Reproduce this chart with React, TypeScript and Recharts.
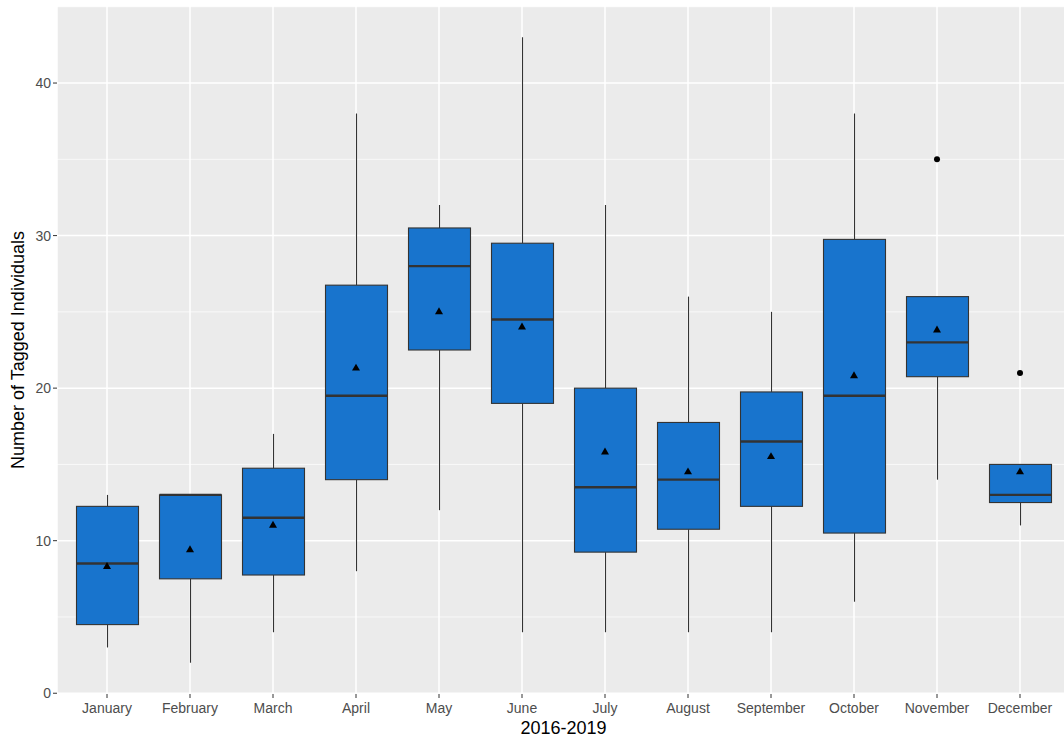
import React from 'react';
import { ComposedChart, Bar, Scatter, XAxis, YAxis, CartesianGrid, Label } from 'recharts';

const months = ['January', 'February', 'March', 'April', 'May', 'June', 'July', 'August', 'September', 'October', 'November', 'December'];
const whiskerLow = [3, 2, 4, 8, 12, 4, 4, 4, 4, 6, 14, 11];
const q1Values = [4.5, 7.5, 7.75, 14, 22.5, 19, 9.25, 10.75, 12.25, 10.5, 20.75, 12.5];
const medianValues = [8.5, 13, 11.5, 19.5, 28, 24.5, 13.5, 14, 16.5, 19.5, 23, 13];
const q3Values = [12.25, 13, 14.75, 26.75, 30.5, 29.5, 20, 17.75, 19.75, 29.75, 26, 15];
const whiskerHigh = [13, 13, 17, 38, 32, 43, 32, 26, 25, 38, 26, 15];
const meanValues = [8.3, 9.4, 11, 21.3, 25, 24, 15.8, 14.5, 15.5, 20.8, 23.8, 14.5];
const outlierValues: (number | null)[] = [null, null, null, null, null, null, null, null, null, null, 35, 21];
const yTicks = [0, 10, 20, 30, 40];
const yMinorTicks = [5, 15, 25, 35, 45];

const data = months.map((m, i) => ({
  month: m,
  range: [whiskerLow[i], whiskerHigh[i]],
  low: whiskerLow[i],
  q1: q1Values[i],
  median: medianValues[i],
  q3: q3Values[i],
  high: whiskerHigh[i],
  mean: meanValues[i],
  outlier: outlierValues[i],
}));

const FONT = '"Liberation Sans", Arial, Helvetica, sans-serif';
const BOX_FILL = '#1874CD';
const LINE = '#333333';

const BoxShape = (props: any) => {
  const { x, y, width, height, payload } = props;
  if (!payload || !isFinite(y) || !isFinite(height)) return null;
  const { low, high, q1, median, q3 } = payload;
  const top = y;
  const bottom = y + height;
  const py = (v: number) => bottom - ((v - low) / (high - low)) * (bottom - top);
  const cx = x + width / 2;
  return (
    <g>
      <line x1={cx} x2={cx} y1={py(high)} y2={py(q3)} stroke={LINE} strokeWidth={1.1} />
      <line x1={cx} x2={cx} y1={py(q1)} y2={py(low)} stroke={LINE} strokeWidth={1.1} />
      <rect x={x} y={py(q3)} width={width} height={py(q1) - py(q3)} fill={BOX_FILL} stroke={LINE} strokeWidth={1.1} />
      <line x1={x} x2={x + width} y1={py(median)} y2={py(median)} stroke={LINE} strokeWidth={2.4} />
    </g>
  );
};

const TriangleShape = (props: any) => {
  const { cx, cy } = props;
  if (!isFinite(cx) || !isFinite(cy)) return null;
  const s = 8;
  const h = s * 0.866;
  return (
    <polygon
      points={`${cx},${cy - (2 * h) / 3} ${cx - s / 2},${cy + h / 3} ${cx + s / 2},${cy + h / 3}`}
      fill="#000000"
    />
  );
};

const DotShape = (props: any) => {
  const { cx, cy, payload } = props;
  if (!payload || payload.outlier == null || !isFinite(cx) || !isFinite(cy)) return null;
  return <circle cx={cx} cy={cy} r={3} fill="#000000" />;
};

const YTitle = (props: any) => {
  const vb = props.viewBox || {};
  const cy = vb.y + vb.height / 2;
  const x = 24;
  return (
    <text
      x={x}
      y={cy}
      transform={`rotate(-90, ${x}, ${cy})`}
      textAnchor="middle"
      fontSize={18}
      fontFamily={FONT}
      fill="#000000"
    >
      Number of Tagged Individuals
    </text>
  );
};

export default function App() {
  return (
    <div
      style={{
        position: 'absolute',
        left: 0,
        top: 0,
        width: 1064,
        height: 738,
        overflow: 'hidden',
        background: '#FFFFFF',
        fontFamily: FONT,
      }}
    >
      <ComposedChart
        width={1072}
        height={738}
        data={data}
        margin={{ top: 6, right: 2, bottom: 0, left: 0 }}
      >
        <CartesianGrid fill="#EBEBEB" stroke="#FFFFFF" strokeWidth={1.5} />
        <CartesianGrid stroke="#FFFFFF" strokeWidth={0.7} vertical={false} horizontalValues={yMinorTicks} />
        <XAxis
          dataKey="month"
          type="category"
          interval={0}
          padding={{ left: 8.5, right: 8.5 }}
          height={44}
          axisLine={false}
          tickLine={{ stroke: LINE }}
          tickSize={4}
          tickMargin={5}
          tick={{ fontSize: 14, fill: '#4D4D4D', fontFamily: FONT }}
        >
          <Label value="2016-2019" position="insideBottom" offset={4} fontSize={18} fill="#000000" fontFamily={FONT} />
        </XAxis>
        <YAxis
          type="number"
          domain={[-0.05, 45.05]}
          ticks={yTicks}
          allowDataOverflow
          width={57}
          axisLine={false}
          tickLine={{ stroke: LINE }}
          tickSize={4}
          tickMargin={2}
          tick={{ fontSize: 14, fill: '#4D4D4D', fontFamily: FONT }}
        >
          <Label content={YTitle} />
        </YAxis>
        <Bar dataKey="range" barSize={62} shape={BoxShape} isAnimationActive={false} />
        <Scatter dataKey="mean" shape={TriangleShape} isAnimationActive={false} />
        <Scatter dataKey="outlier" shape={DotShape} isAnimationActive={false} />
      </ComposedChart>
    </div>
  );
}
